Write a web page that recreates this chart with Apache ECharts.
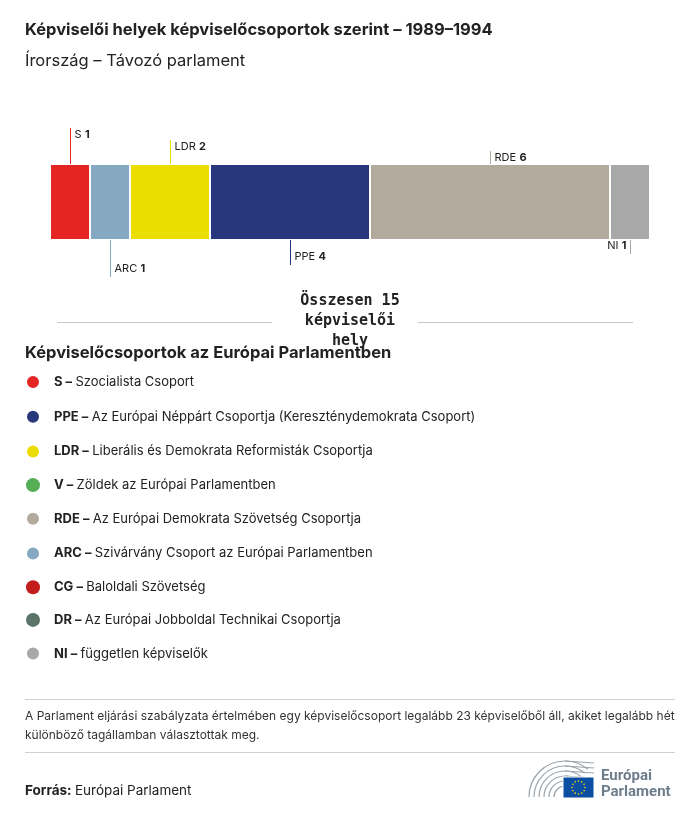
<!DOCTYPE html>
<html><head><meta charset="utf-8">
<script src="https://cdn.jsdelivr.net/npm/echarts@6/dist/echarts.min.js"></script>
<style>html,body{margin:0;padding:0;background:#fff}#c{width:700px;height:818px}</style>
</head><body><div id="c"></div>
<script>
// ---- data ----
const barCodes = ['S', 'ARC', 'LDR', 'PPE', 'RDE', 'NI'];
const barSeats = [1, 1, 2, 4, 6, 1];
const legendCodes = ['S', 'PPE', 'LDR', 'V', 'RDE', 'ARC', 'CG', 'DR', 'NI'];
const legendNames = ['Szocialista Csoport', 'Az Európai Néppárt Csoportja (Kereszténydemokrata Csoport)', 'Liberális és Demokrata Reformisták Csoportja', 'Zöldek az Európai Parlamentben', 'Az Európai Demokrata Szövetség Csoportja', 'Szivárvány Csoport az Európai Parlamentben', 'Baloldali Szövetség', 'Az Európai Jobboldal Technikai Csoportja', 'független képviselők'];
const totalSeats = 15;
const titleText = 'Képviselői helyek képviselőcsoportok szerint – 1989–1994';
const subtitleText = 'Írország – Távozó parlament';
const noteLines = ['A Parlament eljárási szabályzata értelmében egy képviselőcsoport legalább 23 képviselőből áll, akiket legalább hét', 'különböző tagállamban választottak meg.'];

// ---- styles ----
const colors = { S: '#e52521', ARC: '#85a9c0', LDR: '#ecdd00', PPE: '#28367c', RDE: '#b3aa9e', NI: '#a8a8a8', V: '#55ad56', CG: '#c41d1e', DR: '#5b7369' };
// leader: side (1 above, -1 below), length px, text anchor
const leader = { S: [1, 36, 'left'], ARC: [-1, 37, 'left'], LDR: [1, 24, 'left'], PPE: [-1, 25, 'left'], RDE: [1, 13, 'left'], NI: [-1, 14, 'right'] };
const FONT = 'Inter, "Noto Sans", sans-serif';

const series = [];
barCodes.forEach((c, i) => {
  series.push({ name: c, type: 'bar', stack: 'seats', barWidth: '100%', data: [barSeats[i]],
    itemStyle: { color: colors[c], borderColor: '#fff', borderWidth: 1 }, silent: true });
});
legendCodes.forEach(c => { if (barCodes.indexOf(c) < 0) series.push({ name: c, type: 'bar', stack: 'seats', data: [], itemStyle: { color: colors[c] } }); });

// annotation positions: midpoints of stacked segments
const annData = [];
let acc = 0;
barCodes.forEach((c, i) => { annData.push([acc + barSeats[i] / 2, 0, i]); acc += barSeats[i]; });
series.push({
  type: 'custom', name: 'ann', silent: true, z: 5,
  data: annData, encode: { x: 0, y: 1 },
  renderItem: function (params, api) {
    const i = api.value(2);
    const code = barCodes[i];
    const p = api.coord([api.value(0), 0]);
    const band = api.size([0, 1])[1];
    const L = leader[code];
    const x = Math.round(p[0]) + 0.5;
    const edge = L[0] > 0 ? p[1] - band / 2 : p[1] + band / 2;
    const end = edge - L[0] * L[1];
    const ty = L[0] > 0 ? end + 7 : end - 8;
    return { type: 'group', children: [
      { type: 'line', shape: { x1: x, y1: edge, x2: x, y2: end }, style: { stroke: colors[code], lineWidth: 1 } },
      { type: 'text', x: L[2] === 'left' ? x + 4 : x - 4, y: ty,
        style: { text: '{n|' + code + '} {b|' + barSeats[i] + '}', align: L[2], verticalAlign: 'middle',
          rich: { n: { fontSize: 11, fontFamily: FONT, fill: '#222' }, b: { fontSize: 11, fontWeight: 'bold', fontFamily: FONT, fill: '#222' } } } }
    ] };
  }
});

const graphics = [
  { type: 'text', left: 25, top: 22, style: { text: titleText, font: 'bold 16.5px ' + FONT, fill: '#222' } },
  { type: 'text', left: 25, top: 53, style: { text: subtitleText, font: '16.5px ' + FONT, fill: '#222' } },
  { type: 'line', shape: { x1: 57, y1: 322.5, x2: 272, y2: 322.5 }, style: { stroke: '#c8c8c8', lineWidth: 1 } },
  { type: 'line', shape: { x1: 418, y1: 322.5, x2: 633, y2: 322.5 }, style: { stroke: '#c8c8c8', lineWidth: 1 } },
  { type: 'text', x: 350, y: 291, style: { text: 'Összesen ' + totalSeats + '\nképviselői\nhely', align: 'center', lineHeight: 20, font: 'bold 15px "DejaVu Sans Mono", monospace', fill: '#222' } },
  { type: 'text', left: 25, top: 345, style: { text: 'Képviselőcsoportok az Európai Parlamentben', font: 'bold 16.5px ' + FONT, fill: '#222' } },
  { type: 'line', shape: { x1: 25, y1: 699.5, x2: 675, y2: 699.5 }, style: { stroke: '#d0d0d0', lineWidth: 1 } },
  { type: 'text', left: 25, top: 707, style: { text: noteLines.join('\n'), lineHeight: 19, font: '12px ' + FONT, fill: '#333' } },
  { type: 'line', shape: { x1: 25, y1: 752.5, x2: 675, y2: 752.5 }, style: { stroke: '#d0d0d0', lineWidth: 1 } },
  { type: 'text', left: 25, top: 784, style: { text: '{b|Forrás:} {n|Európai Parlament}', rich: { b: { fontWeight: 'bold', fontSize: 13.5, fontFamily: FONT, fill: '#222' }, n: { fontSize: 13.5, fontFamily: FONT, fill: '#222' } } } }
];
// logo
const logo = { type: 'group', x: 0, y: 0, children: [] };
for (let k = 0; k < 6; k++) {
  const r = 36 - k * 5;
  logo.children.push({ type: 'arc', shape: { cx: 565, cy: 797, r: r, startAngle: Math.PI, endAngle: Math.PI * 1.72 }, style: { stroke: '#9aa3ab', lineWidth: 1.2, fill: null } });
  logo.children.push({ type: 'line', shape: { x1: 565, y1: 797 - r, x2: 594, y2: 797 - r + 2 }, style: { stroke: '#9aa3ab', lineWidth: 1.2 } });
}
logo.children.push({ type: 'rect', shape: { x: 563, y: 777, width: 31, height: 21 }, style: { fill: '#0b4ea2', stroke: '#fff', lineWidth: 1 } });
for (let s = 0; s < 12; s++) {
  const a = s / 12 * Math.PI * 2;
  logo.children.push({ type: 'circle', shape: { cx: 578.5 + Math.cos(a) * 6.5, cy: 787.5 + Math.sin(a) * 6.5, r: 0.8 }, style: { fill: '#ffdd00' } });
}
logo.children.push({ type: 'text', left: 601, top: 768, style: { text: 'Európai\nParlament', lineHeight: 16, font: 'bold 15px Roboto, sans-serif', fill: '#6e7d8b' } });
graphics.push(logo);

const chart = echarts.init(document.getElementById('c'), null, { renderer: 'canvas' });
chart.setOption({
  animation: false,
  grid: { left: 50, right: 50, top: 164, height: 76 },
  xAxis: { type: 'value', min: 0, max: totalSeats, show: false },
  yAxis: { type: 'category', data: ['seats'], show: false },
  legend: {
    data: legendCodes, orient: 'vertical', left: 25, top: 374, padding: 0, itemWidth: 14, itemHeight: 14, itemGap: 18.7,
    icon: 'circle', selectedMode: false,
    formatter: function (name) { return '{sp|}{b|' + name + ' –} {n|' + legendNames[legendCodes.indexOf(name)] + '}'; },
    textStyle: { rich: { sp: { width: 9 }, b: { fontWeight: 'bold', fontSize: 13, fontFamily: FONT, color: '#222' }, n: { fontSize: 13, fontFamily: FONT, color: '#222' } } }
  },
  series: series,
  graphic: graphics
});
</script></body></html>
